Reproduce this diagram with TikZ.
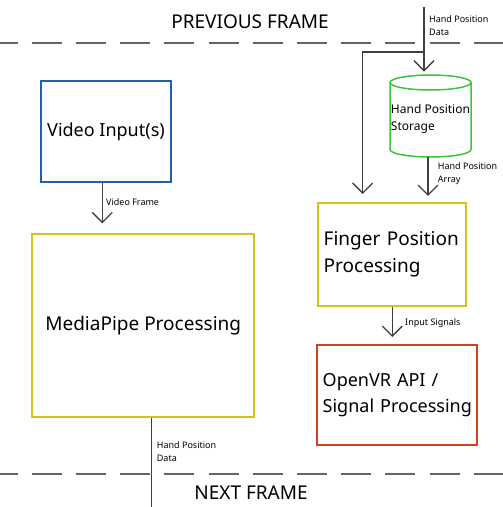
\documentclass[tikz,border=0pt]{standalone}
\usepackage{fontspec}
\setmainfont{Noto Sans}
\usetikzlibrary{arrows.meta}
\definecolor{boxBlue}{RGB}{32, 96, 176}
\definecolor{boxYellow}{RGB}{212, 196, 26}
\definecolor{boxGreen}{RGB}{60, 196, 60}
\definecolor{boxRed}{RGB}{208, 64, 32}
\definecolor{lineGray}{RGB}{64, 64, 64}
\definecolor{dashGray}{RGB}{100, 100, 100}
\hyphenpenalty=10000
\exhyphenpenalty=10000

\begin{document}
\begin{tikzpicture}[x=1pt, y=-1pt,
        block/.style={draw, line width=2pt, inner sep=6pt, font=\fontsize{19}{27}\selectfont},
        flow/.style={lineGray, line width=1.3pt, -{Straight Barb[length=10pt, width=20pt, line width=1.3pt]}},
        tag/.style={anchor=west, inner sep=0pt, align=left, font=\fontsize{9}{13}\selectfont},
        framesep/.style={dashGray, line width=2pt, dash pattern=on 30pt off 14.2pt, dash phase=12.5pt}]
            \useasboundingbox (0,0) rectangle (503,507);

            % Frame borders
            \draw[framesep] (0,42.7) -- (503,42.7);
            \draw[framesep] (0,474.3) -- (503,474.3);
            \node (prev) at (250,22) {\fontsize{19}{22}\selectfont PREVIOUS FRAME};
            \node (next) at (251,493) {\fontsize{19}{22}\selectfont NEXT FRAME};

            % Boxes
            \node[block, draw=boxBlue, minimum width=126pt, minimum height=101pt, font=\fontsize{18}{25}\selectfont] (video) at (106,131.5) {Video Input(s)};
            \node[block, draw=boxYellow, minimum width=221.7pt, minimum height=182.4pt] (mediapipe) at (143.2,325.5) {MediaPipe Processing};
            \node[block, draw=boxYellow, minimum width=148pt, minimum height=102.7pt, text width=136pt, align=left] (finger) at (391.7,254.3) {Finger Position\\Processing};
            \node[block, draw=boxRed, minimum width=160.6pt, minimum height=100pt, text width=148.6pt, align=left, font=\fontsize{18}{26}\selectfont] (openvr) at (397,395) {OpenVR API /\\\mbox{Signal Processing}};

            % Storage cylinder
            \node[minimum width=81pt, minimum height=76pt, inner sep=0pt, align=left, font=\fontsize{12}{17}\selectfont] (storage) at (430.5,119) {Hand Position\\Storage};
            \draw[boxGreen, line width=1.5pt] (430.5,82.5) ellipse [x radius=40.5, y radius=7.5];
            \draw[boxGreen, line width=1.5pt] (390,82.5) -- (390,149.5) arc[start angle=180, end angle=0, x radius=40.5, y radius=7.5] -- (471,82.5);

            % Arrows
            \coordinate (topin) at (424,7);
            \coordinate (split) at (424,52);
            \coordinate (bottomout) at (151.7,507);
            \draw[flow, shorten >=9.3pt] (topin) -- (topin |- storage.north);
            \draw[flow, shorten >=8pt] (split) -| ([xshift=-29pt]finger.north);
            \draw[flow, shorten >=6pt] ([xshift=-2.5pt]storage.south) -- ([xshift=-2.5pt]storage.south |- finger.north);
            \draw[flow, shorten >=10pt] ([xshift=-3.7pt]video.south) -- ([xshift=-3.7pt]video.south |- mediapipe.north);
            \draw[flow, shorten >=7pt] ([xshift=0.6pt]finger.south) -- ([xshift=0.6pt]finger.south |- openvr.north);
            \draw[lineGray, line width=1.3pt] ([xshift=8.5pt]mediapipe.south) -- (bottomout);

            % Labels
            \node[tag] (datain) at (429,25.5) {Hand Position\\Data};
            \node[tag] (arraylbl) at (437.7,173.5) {Hand Position\\Array};
            \node[tag] (framelbl) at (106,201.7) {Video Frame};
            \node[tag] (signallbl) at (405,323) {Input Signals};
            \node[tag] (dataout) at (156.7,452) {Hand Position\\Data};
        \end{tikzpicture}
\end{document}
